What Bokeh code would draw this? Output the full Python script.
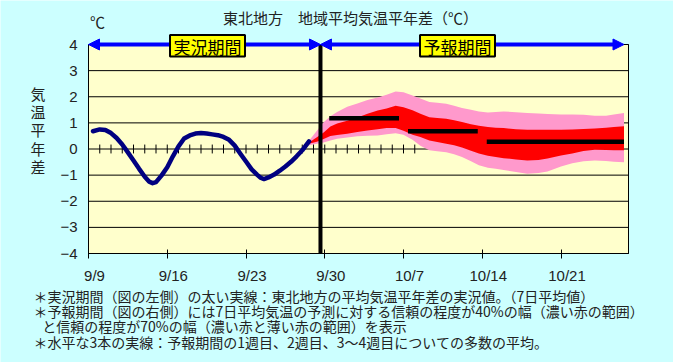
from bokeh.plotting import figure
from bokeh.models import (Range1d, FixedTicker, LinearAxis, Arrow, NormalHead,
                          Label, LabelSet, ColumnDataSource, BoxAnnotation)
from bokeh.core.properties import value
from bokeh.embed import file_html
from bokeh.resources import INLINE

# ---------------- data ----------------
title_text = "東北地方　地域平均気温平年差（℃）"
unit_text = "℃"
ylabel_chars = ["気", "温", "平", "年", "差"]
date_days = [0, 7, 14, 21, 28, 35, 42]
date_labels = ["9/9", "9/16", "9/23", "9/30", "10/7", "10/14", "10/21"]
y_ticks = [-4, -3, -2, -1, 0, 1, 2, 3, 4]
minor_tick_days = list(range(1, 30))

obs_day = [0.4, 1.0, 1.5, 2.0, 2.5, 3.0, 3.5, 4.0, 4.5, 5.0, 5.4, 5.7, 6.0, 6.5,
           7.0, 7.5, 8.0, 8.5, 9.0, 9.5, 10.0, 10.5, 11.0, 11.5, 12.0, 12.5,
           13.0, 13.5, 14.0, 14.5, 15.0, 15.3, 15.6, 16.0, 16.5, 17.0, 17.5,
           18.0, 18.5, 19.0, 19.6]
obs_anom = [0.68, 0.75, 0.73, 0.61, 0.42, 0.17, -0.13, -0.44, -0.76, -1.06,
            -1.25, -1.31, -1.27, -1.01, -0.70, -0.28, 0.10, 0.40, 0.52, 0.59,
            0.61, 0.59, 0.56, 0.53, 0.46, 0.35, 0.13, -0.18, -0.48, -0.78,
            -0.99, -1.10, -1.15, -1.09, -0.98, -0.83, -0.67, -0.49, -0.28,
            -0.05, 0.29]

fc_day = [19.6, 20.3, 20.9, 21.5, 22.1, 23.0, 23.9, 24.8, 25.7, 26.5, 27.3,
          28.0, 28.8, 29.5, 30.3, 31.0, 31.8, 32.5, 33.2, 34.0, 34.7, 35.5,
          36.2, 36.9, 38.0, 39.0, 40.0, 40.8, 42.0, 43.0, 44.0, 45.0, 46.0,
          46.7, 47.6]
p70_hi = [0.32, 0.70, 1.02, 1.25, 1.42, 1.62, 1.74, 1.88, 1.97, 2.08, 2.20,
          2.17, 2.05, 1.93, 1.80, 1.77, 1.73, 1.66, 1.57, 1.50, 1.44, 1.40,
          1.42, 1.44, 1.41, 1.38, 1.36, 1.34, 1.32, 1.32, 1.31, 1.27, 1.27,
          1.32, 1.38]
p40_hi = [0.25, 0.45, 0.63, 0.86, 0.98, 1.08, 1.21, 1.35, 1.47, 1.55, 1.66,
          1.60, 1.48, 1.35, 1.22, 1.19, 1.16, 1.10, 1.03, 0.95, 0.89, 0.84,
          0.81, 0.80, 0.76, 0.74, 0.74, 0.74, 0.74, 0.75, 0.77, 0.78, 0.81,
          0.84, 0.87]
p40_lo = [0.20, 0.28, 0.38, 0.50, 0.54, 0.58, 0.65, 0.71, 0.76, 0.80, 0.80,
          0.70, 0.55, 0.46, 0.33, 0.27, 0.20, 0.14, 0.06, -0.07, -0.17, -0.26,
          -0.31, -0.35, -0.40, -0.44, -0.42, -0.36, -0.25, -0.17, -0.08, -0.03,
          -0.04, -0.05, -0.05]
p70_lo = [0.14, 0.20, 0.25, 0.33, 0.39, 0.44, 0.49, 0.51, 0.52, 0.56, 0.60,
          0.55, 0.35, 0.12, -0.05, -0.09, -0.12, -0.20, -0.31, -0.47, -0.62,
          -0.72, -0.76, -0.80, -0.88, -0.95, -0.92, -0.86, -0.67, -0.55, -0.47,
          -0.44, -0.46, -0.49, -0.51]

week_start = [21.4, 28.4, 35.4]
week_end = [27.6, 34.6, 47.6]
week_mean = [1.18, 0.68, 0.28]

boundary_day = 20.62
period_end_day = 47.6
obs_period_text = "実況期間"
fc_period_text = "予報期間"

notes = [
    "＊実況期間（図の左側）の太い実線：東北地方の平均気温平年差の実況値。（7日平均値）",
    "＊予報期間（図の右側）には7日平均気温の予測に対する信頼の程度が40%の幅（濃い赤の範囲）",
    "と信頼の程度が70%の幅（濃い赤と薄い赤の範囲）を表示",
    "＊水平な3本の実線：予報期間の1週目、2週目、3～4週目についての多数の平均。",
]

# ---------------- layout ----------------
W, H = 673, 362
FL, FR, FT, FB = 88, 628, 44, 253          # chart rectangle inside the canvas (px)
X0, X1, Y0, Y1 = 0, 48, -4, 4              # chart data extent


def dx(px):
    return X0 + (px - FL) * (X1 - X0) / (FR - FL)


def dy(py):
    return Y1 - (py - FT) * (Y1 - Y0) / (FB - FT)


JP = "Noto Sans CJK JP"
NUM = "Liberation Sans"
TXT = "#222222"

p = figure(width=W, height=H,
           x_range=Range1d(dx(0), dx(W)), y_range=Range1d(dy(H), dy(0)),
           x_axis_type=None, y_axis_type=None,
           output_backend="svg", toolbar_location=None, min_border=0,
           background_fill_color="#ccffff", border_fill_color="#ccffff",
           outline_line_color=None)

# chart area
p.quad(left=[X0], right=[X1], bottom=[Y0], top=[Y1],
       fill_color="#ffffcc", line_color="black", line_width=1)
p.segment(x0=[X0] * len(y_ticks), y0=y_ticks, x1=[X1] * len(y_ticks),
          y1=y_ticks, line_color="black", line_width=1)

# axes drawn at the chart edges
yax = LinearAxis(fixed_location=X0, bounds=(Y0, Y1),
                 ticker=FixedTicker(ticks=y_ticks),
                 major_label_overrides={t: (("−" + str(-t)) if t < 0 else str(t))
                                        for t in y_ticks},
                 major_tick_in=0, major_tick_out=0,
                 minor_tick_in=0, minor_tick_out=0,
                 axis_line_color="black", major_label_standoff=11,
                 major_label_text_font=NUM, major_label_text_font_size="15px",
                 major_label_text_color=TXT)
p.add_layout(yax, "left")
xax = LinearAxis(fixed_location=Y0, bounds=(X0, X1),
                 ticker=FixedTicker(ticks=date_days),
                 major_label_overrides={d: "" for d in date_days},
                 major_tick_in=4, major_tick_out=5,
                 minor_tick_in=0, minor_tick_out=0,
                 axis_line_color="black", major_tick_line_color="black")
p.add_layout(xax, "below")

# forecast bands
p.varea(x=fc_day, y1=p70_lo, y2=p70_hi, fill_color="#ff99cc")
p.varea(x=fc_day, y1=p40_lo, y2=p40_hi, fill_color="#ff0000")

# small ticks along the zero line
p.segment(x0=minor_tick_days, y0=[-0.17] * len(minor_tick_days),
          x1=minor_tick_days, y1=[0.17] * len(minor_tick_days),
          line_color="black", line_width=1)

# observed 7-day mean
p.line(obs_day, obs_anom, line_color="#000080", line_width=4.5,
       line_join="round", line_cap="round")

# weekly means
p.segment(x0=week_start, y0=week_mean, x1=week_end, y1=week_mean,
          line_color="black", line_width=4.5)

# boundary between observed and forecast
p.segment(x0=[boundary_day], y0=[Y0], x1=[boundary_day], y1=[Y1],
          line_color="black", line_width=4)

# period arrows
for xa, xb in [(X0, boundary_day), (boundary_day, period_end_day)]:
    p.add_layout(Arrow(
        start=NormalHead(size=11, fill_color="#0000ff", line_color="#0000ff"),
        end=NormalHead(size=11, fill_color="#0000ff", line_color="#0000ff"),
        x_start=xa, y_start=Y1, x_end=xb, y_end=Y1,
        line_color="#0000ff", line_width=4))

# period name boxes
for txt, (bl, br) in [(obs_period_text, (169.5, 244.5)),
                      (fc_period_text, (419.5, 494.5))]:
    p.add_layout(BoxAnnotation(left=dx(bl), right=dx(br), top=dy(34.5),
                               bottom=dy(56), fill_color="#ffff00",
                               fill_alpha=1, line_color="black",
                               line_width=2, line_alpha=1))
    p.add_layout(Label(x=dx((bl + br) / 2), y=dy(45.5), text=txt, text_font=JP,
                       text_font_size="17px", text_color="black",
                       text_align="center", text_baseline="middle"))

# date labels
src = ColumnDataSource(dict(x=date_days, y=[dy(274.5)] * len(date_days),
                            text=date_labels))
p.add_layout(LabelSet(x="x", y="y", text="text", source=src, x_offset=6,
                      text_font=value(NUM), text_font_size="15px",
                      text_color=TXT,
                      text_align="center", text_baseline="middle"))

# title & unit
p.add_layout(Label(x=dx(350), y=dy(17), text=title_text, text_font=JP,
                   text_font_size="15px", text_color=TXT,
                   text_align="center", text_baseline="middle"))
p.add_layout(Label(x=dx(97), y=dy(21), text=unit_text, text_font=JP,
                   text_font_size="15px", text_color=TXT,
                   text_align="center", text_baseline="middle"))

# vertical y-axis label
for i, ch in enumerate(ylabel_chars):
    p.add_layout(Label(x=dx(37.5), y=dy(93 + i * 18.2), text=ch, text_font=JP,
                       text_font_size="15px", text_color=TXT,
                       text_align="center", text_baseline="middle"))

# notes
for (txt, lx, ly) in zip(notes, [33, 33, 41.7, 33], [295, 310, 325, 341.5]):
    p.add_layout(Label(x=dx(lx), y=dy(ly), text=txt, text_font=JP,
                       text_font_size="14px", text_color=TXT,
                       text_align="left", text_baseline="middle"))

open("out.html", "w").write(file_html(p, INLINE))
